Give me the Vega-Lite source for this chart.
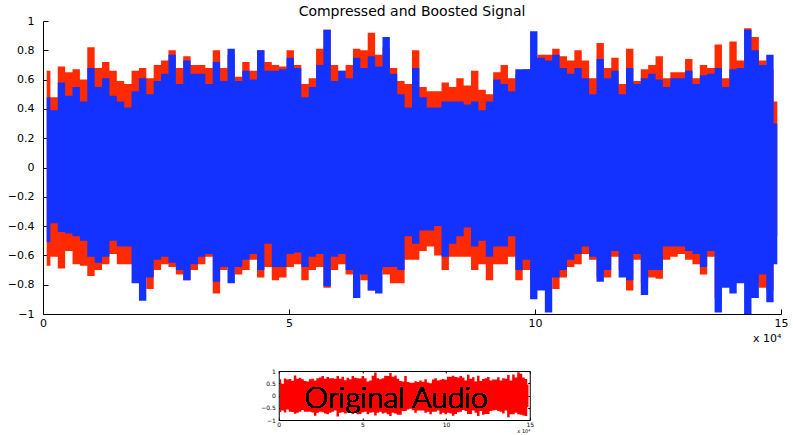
{
  "$schema": "https://vega.github.io/schema/vega-lite/v6.json",
  "padding": {"left": 5, "top": 5, "right": 5, "bottom": 5},
  "background": "white",
  "config": {"view": {"stroke": null}, "font": "DejaVu Sans"},
  "datasets": {
    "sig": [
      {"t":750,"rmax":0.66,"bmax":0.48,"rmin":-0.67,"bmin":-0.51},
      {"t":2250,"rmax":0.48,"bmax":0.39,"rmin":-0.61,"bmin":-0.38},
      {"t":3750,"rmax":0.69,"bmax":0.58,"rmin":-0.69,"bmin":-0.44},
      {"t":5250,"rmax":0.65,"bmax":0.49,"rmin":-0.57,"bmin":-0.45},
      {"t":6750,"rmax":0.67,"bmax":0.55,"rmin":-0.66,"bmin":-0.47},
      {"t":8250,"rmax":0.6,"bmax":0.45,"rmin":-0.67,"bmin":-0.5},
      {"t":9750,"rmax":0.82,"bmax":0.68,"rmin":-0.74,"bmin":-0.61},
      {"t":11250,"rmax":0.68,"bmax":0.55,"rmin":-0.7,"bmin":-0.65},
      {"t":12750,"rmax":0.72,"bmax":0.61,"rmin":-0.66,"bmin":-0.61},
      {"t":14250,"rmax":0.66,"bmax":0.49,"rmin":-0.59,"bmin":-0.5},
      {"t":15750,"rmax":0.59,"bmax":0.45,"rmin":-0.66,"bmin":-0.54},
      {"t":17250,"rmax":0.57,"bmax":0.41,"rmin":-0.66,"bmin":-0.54},
      {"t":18750,"rmax":0.66,"bmax":0.52,"rmin":-0.66,"bmin":-0.79},
      {"t":20250,"rmax":0.68,"bmax":0.61,"rmin":-0.69,"bmin":-0.91},
      {"t":21750,"rmax":0.61,"bmax":0.5,"rmin":-0.83,"bmin":-0.75},
      {"t":23250,"rmax":0.7,"bmax":0.59,"rmin":-0.7,"bmin":-0.63},
      {"t":24750,"rmax":0.73,"bmax":0.64,"rmin":-0.66,"bmin":-0.61},
      {"t":26250,"rmax":0.8,"bmax":0.77,"rmin":-0.68,"bmin":-0.65},
      {"t":27750,"rmax":0.68,"bmax":0.57,"rmin":-0.73,"bmin":-0.7},
      {"t":29250,"rmax":0.76,"bmax":0.73,"rmin":-0.77,"bmin":-0.77},
      {"t":30750,"rmax":0.7,"bmax":0.64,"rmin":-0.7,"bmin":-0.66},
      {"t":32250,"rmax":0.7,"bmax":0.64,"rmin":-0.66,"bmin":-0.61},
      {"t":33750,"rmax":0.68,"bmax":0.57,"rmin":-0.61,"bmin":-0.59},
      {"t":35250,"rmax":0.8,"bmax":0.72,"rmin":-0.86,"bmin":-0.78},
      {"t":36750,"rmax":0.68,"bmax":0.59,"rmin":-0.7,"bmin":-0.68},
      {"t":38250,"rmax":0.77,"bmax":0.81,"rmin":-0.68,"bmin":-0.79},
      {"t":39750,"rmax":0.62,"bmax":0.59,"rmin":-0.73,"bmin":-0.68},
      {"t":41250,"rmax":0.72,"bmax":0.66,"rmin":-0.7,"bmin":-0.63},
      {"t":42750,"rmax":0.66,"bmax":0.6,"rmin":-0.63,"bmin":-0.59},
      {"t":44250,"rmax":0.8,"bmax":0.8,"rmin":-0.75,"bmin":-0.7},
      {"t":45750,"rmax":0.72,"bmax":0.66,"rmin":-0.68,"bmin":-0.52},
      {"t":47250,"rmax":0.7,"bmax":0.66,"rmin":-0.77,"bmin":-0.68},
      {"t":48750,"rmax":0.69,"bmax":0.67,"rmin":-0.75,"bmin":-0.68},
      {"t":50250,"rmax":0.8,"bmax":0.75,"rmin":-0.68,"bmin":-0.59},
      {"t":51750,"rmax":0.7,"bmax":0.68,"rmin":-0.66,"bmin":-0.58},
      {"t":53250,"rmax":0.57,"bmax":0.48,"rmin":-0.77,"bmin":-0.68},
      {"t":54750,"rmax":0.61,"bmax":0.55,"rmin":-0.7,"bmin":-0.61},
      {"t":56250,"rmax":0.81,"bmax":0.7,"rmin":-0.68,"bmin":-0.59},
      {"t":57750,"rmax":0.94,"bmax":0.94,"rmin":-0.82,"bmin":-0.81},
      {"t":59250,"rmax":0.7,"bmax":0.59,"rmin":-0.7,"bmin":-0.61},
      {"t":60750,"rmax":0.66,"bmax":0.66,"rmin":-0.66,"bmin":-0.59},
      {"t":62250,"rmax":0.7,"bmax":0.61,"rmin":-0.73,"bmin":-0.7},
      {"t":63750,"rmax":0.81,"bmax":0.75,"rmin":-0.7,"bmin":-0.89},
      {"t":65250,"rmax":0.8,"bmax":0.68,"rmin":-0.77,"bmin":-0.73},
      {"t":66750,"rmax":0.92,"bmax":0.76,"rmin":-0.84,"bmin":-0.84},
      {"t":68250,"rmax":0.77,"bmax":0.69,"rmin":-0.7,"bmin":-0.86},
      {"t":69750,"rmax":0.82,"bmax":0.89,"rmin":-0.73,"bmin":-0.68},
      {"t":71250,"rmax":0.68,"bmax":0.64,"rmin":-0.79,"bmin":-0.68},
      {"t":72750,"rmax":0.59,"bmax":0.5,"rmin":-0.79,"bmin":-0.7},
      {"t":74250,"rmax":0.57,"bmax":0.41,"rmin":-0.63,"bmin":-0.47},
      {"t":75750,"rmax":0.8,"bmax":0.68,"rmin":-0.63,"bmin":-0.52},
      {"t":77250,"rmax":0.55,"bmax":0.48,"rmin":-0.57,"bmin":-0.43},
      {"t":78750,"rmax":0.52,"bmax":0.41,"rmin":-0.54,"bmin":-0.43},
      {"t":80250,"rmax":0.52,"bmax":0.41,"rmin":-0.6,"bmin":-0.4},
      {"t":81750,"rmax":0.58,"bmax":0.45,"rmin":-0.7,"bmin":-0.61},
      {"t":83250,"rmax":0.55,"bmax":0.45,"rmin":-0.61,"bmin":-0.52},
      {"t":84750,"rmax":0.61,"bmax":0.45,"rmin":-0.61,"bmin":-0.47},
      {"t":86250,"rmax":0.56,"bmax":0.43,"rmin":-0.61,"bmin":-0.41},
      {"t":87750,"rmax":0.66,"bmax":0.45,"rmin":-0.7,"bmin":-0.54},
      {"t":89250,"rmax":0.53,"bmax":0.39,"rmin":-0.66,"bmin":-0.5},
      {"t":90750,"rmax":0.5,"bmax":0.45,"rmin":-0.77,"bmin":-0.61},
      {"t":92250,"rmax":0.65,"bmax":0.6,"rmin":-0.66,"bmin":-0.54},
      {"t":93750,"rmax":0.7,"bmax":0.57,"rmin":-0.66,"bmin":-0.54},
      {"t":95250,"rmax":0.61,"bmax":0.52,"rmin":-0.61,"bmin":-0.47},
      {"t":96750,"rmax":0.64,"bmax":0.67,"rmin":-0.77,"bmin":-0.7},
      {"t":98250,"rmax":0.67,"bmax":0.67,"rmin":-0.7,"bmin":-0.63},
      {"t":99750,"rmax":0.64,"bmax":0.93,"rmin":-0.77,"bmin":-0.9},
      {"t":101250,"rmax":0.77,"bmax":0.75,"rmin":-0.7,"bmin":-0.84},
      {"t":102750,"rmax":0.77,"bmax":0.73,"rmin":-0.73,"bmin":-0.99},
      {"t":104250,"rmax":0.81,"bmax":0.77,"rmin":-0.83,"bmin":-0.75},
      {"t":105750,"rmax":0.76,"bmax":0.68,"rmin":-0.75,"bmin":-0.7},
      {"t":107250,"rmax":0.73,"bmax":0.64,"rmin":-0.68,"bmin":-0.63},
      {"t":108750,"rmax":0.8,"bmax":0.68,"rmin":-0.66,"bmin":-0.59},
      {"t":110250,"rmax":0.73,"bmax":0.61,"rmin":-0.59,"bmin":-0.54},
      {"t":111750,"rmax":0.61,"bmax":0.5,"rmin":-0.63,"bmin":-0.61},
      {"t":113250,"rmax":0.85,"bmax":0.74,"rmin":-0.75,"bmin":-0.78},
      {"t":114750,"rmax":0.68,"bmax":0.61,"rmin":-0.75,"bmin":-0.7},
      {"t":116250,"rmax":0.75,"bmax":0.66,"rmin":-0.61,"bmin":-0.57},
      {"t":117750,"rmax":0.57,"bmax":0.5,"rmin":-0.7,"bmin":-0.75},
      {"t":119250,"rmax":0.81,"bmax":0.68,"rmin":-0.84,"bmin":-0.77},
      {"t":120750,"rmax":0.59,"bmax":0.57,"rmin":-0.63,"bmin":-0.59},
      {"t":122250,"rmax":0.67,"bmax":0.61,"rmin":-0.79,"bmin":-0.87},
      {"t":123750,"rmax":0.7,"bmax":0.64,"rmin":-0.75,"bmin":-0.7},
      {"t":125250,"rmax":0.76,"bmax":0.6,"rmin":-0.76,"bmin":-0.7},
      {"t":126750,"rmax":0.61,"bmax":0.55,"rmin":-0.63,"bmin":-0.54},
      {"t":128250,"rmax":0.65,"bmax":0.61,"rmin":-0.61,"bmin":-0.54},
      {"t":129750,"rmax":0.65,"bmax":0.61,"rmin":-0.59,"bmin":-0.54},
      {"t":131250,"rmax":0.74,"bmax":0.66,"rmin":-0.63,"bmin":-0.57},
      {"t":132750,"rmax":0.61,"bmax":0.57,"rmin":-0.66,"bmin":-0.59},
      {"t":134250,"rmax":0.7,"bmax":0.63,"rmin":-0.73,"bmin":-0.68},
      {"t":135750,"rmax":0.68,"bmax":0.64,"rmin":-0.61,"bmin":-0.57},
      {"t":137250,"rmax":0.84,"bmax":0.68,"rmin":-0.89,"bmin":-0.99},
      {"t":138750,"rmax":0.61,"bmax":0.55,"rmin":-0.77,"bmin":-0.82},
      {"t":140250,"rmax":0.86,"bmax":0.67,"rmin":-0.77,"bmin":-0.86},
      {"t":141750,"rmax":0.73,"bmax":0.68,"rmin":-0.7,"bmin":-0.79},
      {"t":143250,"rmax":0.95,"bmax":0.94,"rmin":-0.77,"bmin":-1.0},
      {"t":144750,"rmax":0.89,"bmax":0.8,"rmin":-0.79,"bmin":-0.89},
      {"t":146250,"rmax":0.73,"bmax":0.7,"rmin":-0.82,"bmin":-0.73},
      {"t":147750,"rmax":0.67,"bmax":0.77,"rmin":-0.84,"bmin":-0.92},
      {"t":149250,"rmax":0.45,"bmax":0.3,"rmin":-0.47,"bmin":-0.66}
    ]
  },
  "vconcat": [
    {
      "width": 738,
      "height": 293,
      "title": {"text": "Compressed and Boosted Signal", "fontSize": 14, "fontWeight": "normal", "font": "DejaVu Sans", "offset": -4, "frame": "group", "color": "black"},
      "data": {"name": "sig"},
      "encoding": {
        "x": {
          "field": "t", "type": "quantitative",
          "scale": {"domain": [0, 150000], "nice": false, "zero": false},
          "axis": {
            "values": [0, 50000, 100000, 150000],
            "labelExpr": "datum.value / 10000",
            "grid": false, "tickSize": -5, "labelPadding": 8, "labelOverlap": false, "labelFlush": false,
            "domainColor": "black", "tickColor": "black", "labelColor": "black",
            "labelFont": "DejaVu Sans", "labelFontSize": 11,
            "title": "x 10⁴", "titleAnchor": "end", "titleFont": "DejaVu Sans", "titleFontSize": 11,
            "titleFontWeight": "normal", "titleColor": "black", "titlePadding": 4
          }
        }
      },
      "layer": [
        {
          "mark": {"type": "area", "color": "#ff2a00", "interpolate": "step"},
          "encoding": {
            "y": {
              "field": "rmax", "type": "quantitative",
              "scale": {"domain": [-1, 1], "nice": false, "zero": false},
              "axis": {
                "values": [-1, -0.8, -0.6, -0.4, -0.2, 0, 0.2, 0.4, 0.6, 0.8, 1],
                "format": "~g", "grid": false, "tickSize": -5, "labelPadding": 14, "labelOverlap": false, "labelFlush": false,
                "minExtent": 38, "maxExtent": 38,
                "domainColor": "black", "tickColor": "black", "labelColor": "black",
                "labelFont": "DejaVu Sans", "labelFontSize": 11, "title": null
              }
            },
            "y2": {"field": "rmin"}
          }
        },
        {
          "mark": {"type": "area", "color": "#1432ff", "interpolate": "step"},
          "encoding": {
            "y": {
              "field": "bmax", "type": "quantitative",
              "scale": {"domain": [-1, 1], "nice": false, "zero": false},
              "axis": {
                "values": [-1, -0.8, -0.6, -0.4, -0.2, 0, 0.2, 0.4, 0.6, 0.8, 1],
                "format": "~g", "grid": false, "tickSize": -5, "labelPadding": 14, "labelOverlap": false, "labelFlush": false,
                "minExtent": 38, "maxExtent": 38,
                "domainColor": "black", "tickColor": "black", "labelColor": "black",
                "labelFont": "DejaVu Sans", "labelFontSize": 11, "title": null
              }
            },
            "y2": {"field": "bmin"}
          }
        }
      ]
    },
    {
      "width": 251,
      "height": 49,
      "view": {"stroke": "black", "strokeWidth": 1},
      "data": {"name": "sig"},
      "layer": [
        {
          "mark": {"type": "area", "color": "#ff0000", "interpolate": "step"},
          "encoding": {
            "x": {
              "field": "t", "type": "quantitative",
              "scale": {"domain": [0, 150000], "nice": false, "zero": false},
              "axis": {
                "values": [0, 50000, 100000, 150000],
                "labelExpr": "datum.value / 10000",
                "grid": false, "tickSize": -2, "labelPadding": 3, "domain": false, "labelOverlap": false, "labelFlush": false,
                "tickColor": "black", "labelColor": "black",
                "labelFont": "DejaVu Sans", "labelFontSize": 6,
                "title": "x 10⁴", "titleAnchor": "end", "titleFont": "DejaVu Sans", "titleFontSize": 5,
                "titleFontWeight": "normal", "titleColor": "black", "titlePadding": 1
              }
            },
            "y": {
              "field": "rmax", "type": "quantitative",
              "scale": {"domain": [-1, 1], "nice": false, "zero": false},
              "axis": {
                "values": [-1, -0.5, 0, 0.5, 1],
                "format": "~g", "grid": false, "tickSize": -2, "labelPadding": 5.5, "domain": false, "labelOverlap": false, "labelFlush": false,
                "tickColor": "black", "labelColor": "black",
                "labelFont": "DejaVu Sans", "labelFontSize": 6, "title": null
              }
            },
            "y2": {"field": "rmin"}
          }
        },
        {
          "mark": {"type": "text", "text": "Original Audio", "font": "Lato", "fontWeight": 300, "fontSize": 30, "color": "black", "align": "center", "baseline": "alphabetic"},
          "encoding": {
            "x": {"datum": 70000, "type": "quantitative", "axis": {"orient": "top", "values": [0, 50000, 100000, 150000], "labels": false, "grid": false, "tickSize": -2, "domain": false, "tickColor": "black", "title": null}},
            "y": {"datum": -0.5, "type": "quantitative", "axis": {"orient": "right", "values": [-1, -0.5, 0, 0.5, 1], "labels": false, "grid": false, "tickSize": -2, "domain": false, "tickColor": "black", "title": null, "minExtent": 22, "maxExtent": 22}}
          }
        }
      ],
      "resolve": {"axis": {"x": "independent", "y": "independent"}}
    }
  ],
  "center": true,
  "spacing": 24
}
